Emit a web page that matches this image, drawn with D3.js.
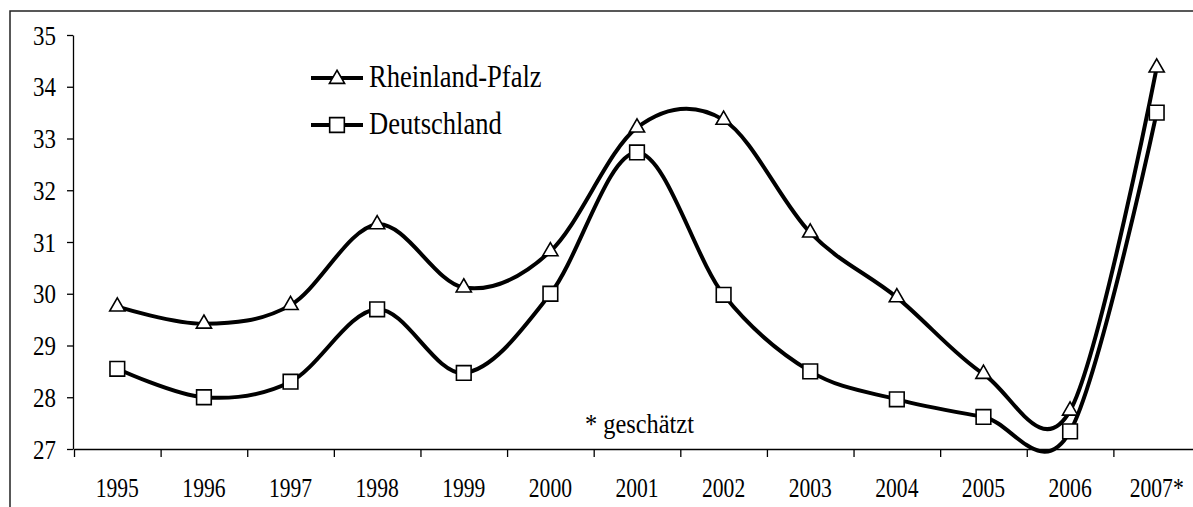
<!DOCTYPE html>
<html>
<head>
<meta charset="utf-8">
<script src="https://cdn.jsdelivr.net/npm/d3@7"></script>
<style>
  body { margin: 0; background: #fff; }
  text { font-family: "Liberation Serif", "Times New Roman", serif; fill: #000; }
</style>
</head>
<body>
<script>
// data
const years = ['1995', '1996', '1997', '1998', '1999', '2000', '2001', '2002', '2003', '2004', '2005', '2006', '2007*'];
const rheinlandPfalz = [29.75, 29.42, 29.78, 31.34, 30.12, 30.82, 33.21, 33.36, 31.18, 29.93, 28.45, 27.74, 34.37];
const deutschland = [28.55, 28.0, 28.3, 29.7, 28.47, 30.0, 32.73, 29.98, 28.5, 27.96, 27.62, 27.34, 33.5];
const yTicks = [27, 28, 29, 30, 31, 32, 33, 34, 35];
const seriesNames = ['Rheinland-Pfalz', 'Deutschland'];

const width = 1193, height = 507;

const svg = d3.select('body').append('svg')
  .attr('width', width)
  .attr('height', height);

// outer frame (runs off the right and bottom edge like the original)
svg.append('rect')
  .attr('x', 10).attr('y', 11)
  .attr('width', 1200).attr('height', 520)
  .attr('fill', 'none')
  .attr('stroke', '#222')
  .attr('stroke-width', 1.5);

const x = d3.scaleBand().domain(years).range([74, 1200]);
const xEdge = d3.scaleLinear().domain([0, years.length]).range([74, 1200]);
const y = d3.scaleLinear().domain([27, 35]).range([449, 35]);

// squeeze glyphs horizontally, the source font is tall and narrow
function squeeze(sel, k) {
  sel.each(function() {
    const len = this.getComputedTextLength();
    d3.select(this).attr('textLength', len * k).attr('lengthAdjust', 'spacingAndGlyphs');
  });
}

// y axis
const yAxis = svg.append('g')
  .attr('transform', 'translate(73,0)')
  .call(d3.axisLeft(y).tickValues(yTicks).tickFormat(d3.format('d')).tickSize(6).tickSizeOuter(0).tickPadding(11));
yAxis.select('.domain').attr('stroke', '#000').attr('stroke-width', 1.3);
yAxis.selectAll('.tick line').attr('stroke', '#000').attr('stroke-width', 1.3);
yAxis.selectAll('text').style('font-size', '27px').style('font-family', '"Liberation Serif", serif').attr('dy', '0.34em');
squeeze(yAxis.selectAll('text'), 0.85);

// x axis: ticks between categories
const xAxis = svg.append('g')
  .attr('transform', 'translate(0,449)')
  .call(d3.axisBottom(xEdge).tickValues(d3.range(0, years.length + 1)).tickFormat('').tickSize(8).tickSizeOuter(0));
xAxis.select('.domain').attr('stroke', '#000').attr('stroke-width', 1.3);
xAxis.selectAll('.tick line').attr('stroke', '#000').attr('stroke-width', 1.3);

const xLabels = svg.append('g')
  .attr('transform', 'translate(0,449)')
  .call(d3.axisBottom(x).tickSize(0).tickPadding(29));
xLabels.select('.domain').remove();
xLabels.selectAll('text').style('font-size', '27px').style('font-family', '"Liberation Serif", serif');
squeeze(xLabels.selectAll('text'), 0.8);

// lines
const line = d3.line()
  .x((d, i) => x(years[i]) + x.bandwidth() / 2)
  .y(d => y(d))
  .curve(d3.curveCardinal.tension(0));

[rheinlandPfalz, deutschland].forEach(vals => {
  svg.append('path')
    .datum(vals)
    .attr('d', line)
    .attr('fill', 'none')
    .attr('stroke', '#000')
    .attr('stroke-width', 4)
    .attr('stroke-linejoin', 'round');
});

const tri = d3.symbol().type(d3.symbolTriangle).size(100);
const sq = d3.symbol().type(d3.symbolSquare).size(215);

function markers(vals, sym) {
  svg.append('g').selectAll('path')
    .data(vals)
    .enter()
    .append('path')
    .attr('d', sym)
    .attr('transform', (d, i) => `translate(${x(years[i]) + x.bandwidth() / 2},${y(d)})`)
    .attr('fill', '#fff')
    .attr('stroke', '#000')
    .attr('stroke-width', 1.6);
}
markers(rheinlandPfalz, tri);
markers(deutschland, sq);

// legend
const legend = svg.append('g');
const legendY = [78, 125];
seriesNames.forEach((name, i) => {
  legend.append('line')
    .attr('x1', 311).attr('x2', 363)
    .attr('y1', legendY[i]).attr('y2', legendY[i])
    .attr('stroke', '#000').attr('stroke-width', 4);
  legend.append('path')
    .attr('d', i === 0 ? tri : sq)
    .attr('transform', `translate(337,${legendY[i] + (i === 0 ? 1 : 0)})`)
    .attr('fill', '#fff').attr('stroke', '#000').attr('stroke-width', 1.6);
  legend.append('text')
    .attr('x', 369).attr('y', legendY[i] + 9)
    .style('font-size', '32px')
    .text(name);
});
squeeze(legend.selectAll('text'), 0.83);

// note
const note = svg.append('text')
  .attr('x', 585).attr('y', 433)
  .style('font-size', '28px')
  .text('* geschätzt');
squeeze(note, 0.87);
</script>
</body>
</html>
